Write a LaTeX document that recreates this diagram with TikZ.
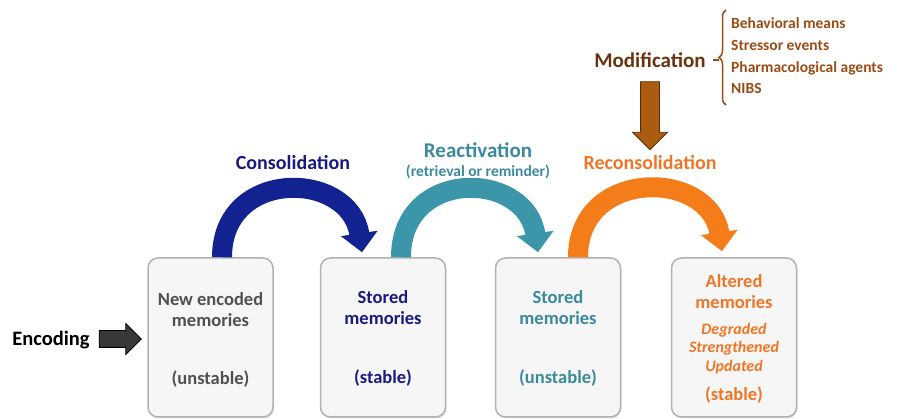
\documentclass[tikz,border=0pt]{standalone}
\usepackage{fontspec}
\setmainfont{Carlito}
\usepackage{tikz}
\usetikzlibrary{arrows.meta,positioning,shapes.arrows,shadows,calc,
                 decorations.pathreplacing}
\definecolor{navyarc}{RGB}{18,34,145}
\definecolor{navytxt}{RGB}{26,26,128}
\definecolor{tealarc}{RGB}{58,150,168}
\definecolor{tealtxt}{RGB}{58,138,156}
\definecolor{orangearc}{RGB}{245,125,25}
\definecolor{orangetxt}{RGB}{240,118,38}
\definecolor{brownfill}{RGB}{172,92,16}
\definecolor{brownline}{RGB}{90,45,10}
\definecolor{browntxt}{RGB}{104,52,16}
\definecolor{listtxt}{RGB}{155,76,20}
\definecolor{boxgray}{RGB}{80,80,80}

\begin{document}
\begin{tikzpicture}[
    x=1pt, y=-1pt,
    memo/.style={rectangle, draw=gray!60, line width=1.5pt, fill=gray!7,
                 rounded corners=10pt, minimum width=125pt, minimum height=159pt,
                 drop shadow={opacity=0.25, shadow xshift=1pt, shadow yshift=-1.5pt}},
    memotxt/.style={font=\fontsize{18.5}{21}\selectfont\bfseries, align=center, inner sep=0pt},
    lbl/.style={font=\fontsize{20}{22}\selectfont\bfseries, align=center, inner sep=0pt},
    swoop/.style={line width=20pt, -{Triangle[length=19pt, width=36pt]}},
    blockarrow/.style={single arrow, single arrow head extend=8pt,
                       single arrow head indent=0pt, inner sep=0pt, line width=0.8pt}
]
\useasboundingbox (0,0) rectangle (916,419);
% memory boxes
\node[memo] (b1) at (210.5,337.5) {};
\node[memo] (b2) at (383,337.5) {};
\node[memo] (b3) at (558,337.5) {};
\node[memo] (b4) at (734,337.5) {};
\node[memotxt, text=boxgray] (t1) at ([yshift=-52.5pt]b1.north) {New encoded\\memories};
\node[memotxt, text=boxgray] (s1) at ([yshift=-122pt]b1.north) {(unstable)};
\node[memotxt, text=navytxt] (t2) at ([yshift=-50.5pt]b2.north) {Stored\\memories};
\node[memotxt, text=navytxt] (s2) at ([yshift=-121pt]b2.north) {(stable)};
\node[memotxt, text=tealtxt] (t3) at ([yshift=-50.5pt]b3.north) {Stored\\memories};
\node[memotxt, text=tealtxt] (s3) at ([yshift=-121pt]b3.north) {(unstable)};
\node[memotxt, text=orangetxt] (t4) at ([yshift=-34.5pt]b4.north) {Altered\\memories};
\node[memotxt, text=orangetxt, font=\fontsize{16}{18.5}\selectfont\bfseries\itshape]
    (m4) at ([yshift=-91pt]b4.north) {Degraded\\Strengthened\\Updated};
\node[memotxt, text=orangetxt] (s4) at ([yshift=-138pt]b4.north) {(stable)};
% encoding
\node[lbl, font=\fontsize{20.5}{22}\selectfont\bfseries] (enc) at (51,340) {Encoding};
\node[blockarrow, fill=black!78, draw=black, minimum height=42pt, inner ysep=8pt,
      single arrow head extend=7pt] (encarrow) at (116,339) {};
% curved arrows
\draw[swoop, navyarc] ([xshift=11.5pt]b1.north) .. controls +(0,-90) and +(-12,-82) .. ([xshift=-21pt,yshift=5pt]b2.north);
\draw[swoop, tealarc] ([xshift=18pt]b2.north) .. controls +(0,-90) and +(-12,-82) .. ([xshift=-20pt,yshift=5pt]b3.north);
\draw[swoop, orangearc] ([xshift=20pt]b3.north) .. controls +(0,-90) and +(-12,-82) .. ([xshift=-12pt,yshift=6pt]b4.north);
\node[lbl, text=navytxt] (cons) at (293,163) {Consolidation};
\node[lbl, text=tealtxt, font=\fontsize{21}{23}\selectfont\bfseries] (react) at (478,150) {Reactivation};
\node[lbl, text=tealtxt, font=\fontsize{15.5}{17}\selectfont\bfseries] (retr) at (478,172) {(retrieval or reminder)};
\node[lbl, text=orangetxt] (recons) at (650,163) {Reconsolidation};
% modification
\node[lbl, text=browntxt, font=\fontsize{21}{23}\selectfont\bfseries] (mod) at (650,60) {Modification};
\node[blockarrow, fill=brownfill, draw=brownline, minimum height=68pt, inner xsep=9pt,
      shape border rotate=270] (modarrow) at (650,111) {};
\draw[listtxt, line width=1.5pt] ([xshift=7pt]mod.east) -- ++(6,0) coordinate (cusp);
\draw[listtxt, line width=1.5pt, decorate, decoration={brace, amplitude=7pt}]
    (726,105) -- (726,10);
\node[lbl, text=listtxt, align=left, anchor=west,
      font=\fontsize{15.5}{21.7}\selectfont\bfseries] (means) at (731,56)
    {Behavioral means\\Stressor events\\Pharmacological agents\\NIBS};
\end{tikzpicture}
\end{document}
